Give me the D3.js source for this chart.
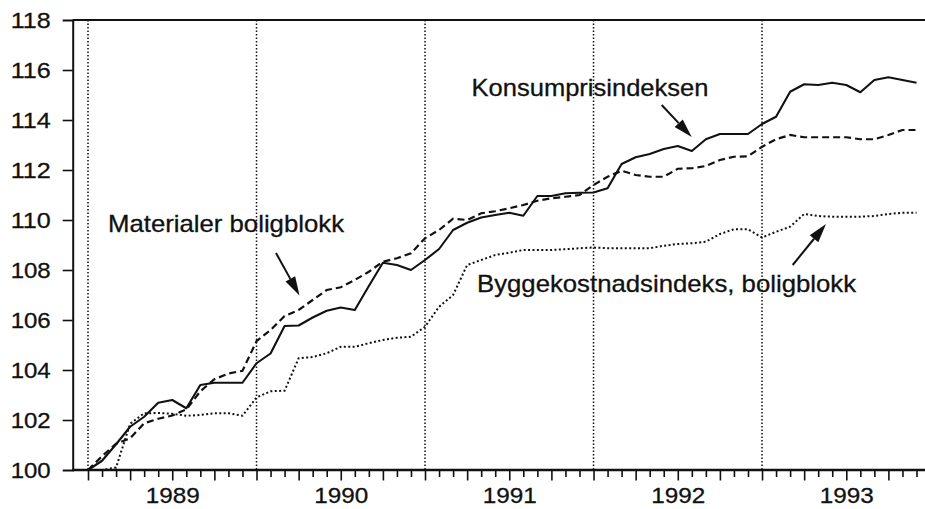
<!DOCTYPE html>
<html>
<head>
<meta charset="utf-8">
<script src="https://cdn.jsdelivr.net/npm/d3@7"></script>
<style>
  html, body { margin: 0; padding: 0; background: #fff; }
  svg { display: block; }
  text { font-family: "Liberation Sans", Arial, Helvetica, sans-serif; fill: #111; }
</style>
</head>
<body>
<svg id="chart" width="925" height="509"></svg>
<script>
// ---------- data (monthly, Jan 1989 .. Dec 1993) ----------
const years = [1989, 1990, 1991, 1992, 1993];
const yTicks = [100, 102, 104, 106, 108, 110, 112, 114, 116, 118];

const konsumpris = [
  100.0, 100.37, 101.03, 101.73, 102.13, 102.69, 102.8, 102.47, 103.4, 103.49, 103.49, 103.49,
  104.27, 104.66, 105.76, 105.78, 106.1, 106.37, 106.5, 106.4, 107.36, 108.29, 108.2, 108.0,
  108.4, 108.84, 109.6, 109.89, 110.1, 110.2, 110.29, 110.17, 110.96, 110.96, 111.07, 111.09,
  111.1, 111.27, 112.24, 112.51, 112.64, 112.84, 112.96, 112.76, 113.23, 113.44, 113.44, 113.44,
  113.84, 114.13, 115.13, 115.43, 115.4, 115.49, 115.4, 115.11, 115.6, 115.71, 115.6, 115.49
];
const materialer = [
  100.0, 100.55, 101.05, 101.27, 101.87, 102.05, 102.18, 102.42, 103.15, 103.63, 103.86, 103.97,
  105.15, 105.6, 106.16, 106.4, 106.8, 107.2, 107.31, 107.6, 107.93, 108.33, 108.47, 108.67,
  109.27, 109.6, 110.05, 110.0, 110.27, 110.35, 110.47, 110.6, 110.77, 110.87, 110.93, 111.0,
  111.4, 111.73, 111.97, 111.8, 111.73, 111.73, 112.05, 112.07, 112.16, 112.4, 112.53, 112.55,
  112.93, 113.23, 113.4, 113.31, 113.31, 113.31, 113.31, 113.23, 113.23, 113.4, 113.6, 113.6
];
const byggekostnad = [
  100.0, 100.0, 100.1, 101.85, 102.27, 102.28, 102.25, 102.17, 102.2, 102.27, 102.27, 102.17,
  102.9, 103.15, 103.17, 104.47, 104.52, 104.67, 104.93, 104.93, 105.07, 105.2, 105.29, 105.33,
  105.73, 106.53, 107.0, 108.2, 108.4, 108.6, 108.69, 108.8, 108.8, 108.8, 108.83, 108.87,
  108.9, 108.87, 108.87, 108.87, 108.87, 108.97, 109.04, 109.07, 109.13, 109.44, 109.63, 109.63,
  109.3, 109.53, 109.73, 110.24, 110.16, 110.13, 110.13, 110.13, 110.16, 110.24, 110.29, 110.29
];
const labels = {
  konsum: "Konsumprisindeksen",
  materialer: "Materialer boligblokk",
  bygg: "Byggekostnadsindeks, boligblokk"
};

// ---------- layout ----------
const svg = d3.select("#chart");
const plotL = 72.7, plotR = 925, plotT = 20, plotB = 470;

const x = d3.scaleLinear().domain([0, 59]).range([88, 916.5]);
const y = d3.scaleLinear().domain([100, 118]).range([plotB, plotT]);
const months = d3.range(0, 60);

// year separators (dotted verticals)
svg.append("g").selectAll("line")
  .data(years.map((yr, i) => i * 12))
  .join("line")
  .attr("x1", d => x(d)).attr("x2", d => x(d))
  .attr("y1", plotT).attr("y2", plotB)
  .attr("stroke", "#111").attr("stroke-width", 1.5)
  .attr("stroke-dasharray", "1.5,2");

// series lines
const line = d3.line().x((d, i) => x(i)).y(d => y(d));
svg.append("path").datum(byggekostnad).attr("d", line)
  .attr("fill", "none").attr("stroke", "#111").attr("stroke-width", 2)
  .attr("stroke-dasharray", "2,2.4");
svg.append("path").datum(materialer).attr("d", line)
  .attr("fill", "none").attr("stroke", "#111").attr("stroke-width", 2.2)
  .attr("stroke-dasharray", "7,4");
svg.append("path").datum(konsumpris).attr("d", line)
  .attr("fill", "none").attr("stroke", "#111").attr("stroke-width", 2.1)
  .attr("stroke-linejoin", "round");

// frame top line
svg.append("line").attr("x1", plotL).attr("x2", plotR).attr("y1", plotT).attr("y2", plotT)
  .attr("stroke", "#111").attr("stroke-width", 2);

// left axis
const yAxis = svg.append("g").attr("transform", `translate(${plotL},0)`)
  .call(d3.axisLeft(y).tickValues(yTicks).tickSize(10).tickPadding(12).tickFormat(d3.format("d")));
yAxis.select(".domain").attr("stroke", "#111").attr("stroke-width", 2);
yAxis.selectAll(".tick line").attr("stroke", "#111").attr("stroke-width", 1.6)
  .attr("display", d => (d === 100 || d === 118) ? "none" : null);
yAxis.selectAll(".tick text").attr("font-size", 22.5)
  .attr("textLength", 40).attr("lengthAdjust", "spacingAndGlyphs")
  .style("font-family", "'Liberation Sans', Arial, sans-serif").attr("fill", "#111")
  .attr("stroke", "#111").attr("stroke-width", 0.3);

// bottom axis (monthly ticks)
const xAxis = svg.append("g").attr("transform", `translate(0,${plotB})`)
  .call(d3.axisBottom(x).tickValues(months).tickSize(8).tickFormat(""));
xAxis.select(".domain").attr("d", `M${plotL},0H${plotR}`).attr("stroke", "#111").attr("stroke-width", 2.6);
xAxis.selectAll(".tick line").attr("stroke", "#111").attr("stroke-width", 1.6)
  .attr("y2", d => d % 3 === 0 ? 10.5 : 7);

// year labels centred mid-year
const yearAxis = svg.append("g").attr("transform", `translate(0,${plotB})`)
  .call(d3.axisBottom(x).tickValues(years.map((yr, i) => i * 12 + 6)).tickSize(0).tickPadding(17)
    .tickFormat((d) => years[(d - 6) / 12]));
yearAxis.select(".domain").remove();
yearAxis.selectAll(".tick text").attr("font-size", 22.5)
  .attr("textLength", 54).attr("lengthAdjust", "spacingAndGlyphs")
  .style("font-family", "'Liberation Sans', Arial, sans-serif").attr("fill", "#111")
  .attr("stroke", "#111").attr("stroke-width", 0.3);

// annotations
function label(text, x0, yb, len) {
  svg.append("text").attr("x", x0).attr("y", yb).attr("font-size", 24)
    .attr("textLength", len).attr("lengthAdjust", "spacingAndGlyphs")
    .attr("stroke", "#111").attr("stroke-width", 0.3).text(text);
}
label(labels.konsum, 471.5, 96, 237);
label(labels.materialer, 108, 232, 236);
label(labels.bygg, 477, 291.5, 379);

function arrow(x1, y1, x2, y2) {
  const ang = Math.atan2(y2 - y1, x2 - x1);
  const hl = 19, hw = 5.5;
  const bx = x2 - hl * Math.cos(ang), by = y2 - hl * Math.sin(ang);
  svg.append("line").attr("x1", x1).attr("y1", y1).attr("x2", bx).attr("y2", by)
    .attr("stroke", "#111").attr("stroke-width", 2);
  const px = -Math.sin(ang) * hw, py = Math.cos(ang) * hw;
  svg.append("path")
    .attr("d", `M${x2},${y2}L${bx + px},${by + py}L${bx - px},${by - py}Z`)
    .attr("fill", "#111");
}
arrow(661.7, 105, 691.7, 137);
arrow(276, 253, 299.5, 295.5);
arrow(792.7, 265, 826, 224);
</script>
</body>
</html>
